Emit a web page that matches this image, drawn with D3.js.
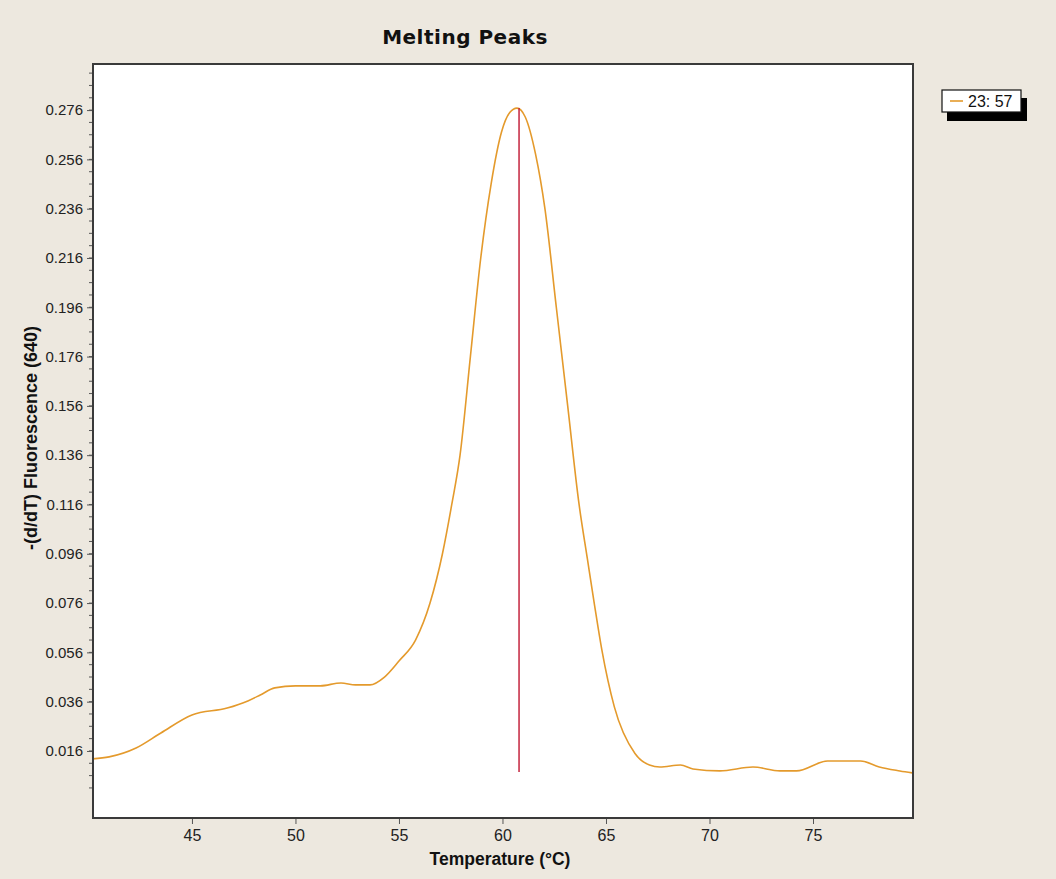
<!DOCTYPE html>
<html>
<head>
<meta charset="utf-8">
<script src="https://cdn.jsdelivr.net/npm/d3@7"></script>
<style>
  body { margin: 0; background: #ede8df; }
  svg { display: block; }
</style>
</head>
<body>
<div class="viewbox"></div>
<script>
// melting curve (temperature in C, -(d/dT) value)
const temps = [40.2, 41.0, 42.3, 43.5, 45.0, 46.7, 47.7, 48.3, 49.0, 50.0, 51.2, 52.2, 52.9, 53.6,
  54.3, 55.0, 55.8, 56.5, 57.1, 57.55, 57.95, 58.45, 58.95, 59.45, 59.95, 60.35, 60.7,
  61.1, 61.6, 62.05, 62.6, 63.15, 63.7, 64.1, 64.45, 64.8, 65.4, 66.4, 67.1, 67.6, 68.6,
  69.2, 70.5, 72.1, 73.4, 74.2, 75.7, 77.3, 78.2, 79.2, 79.8];
const fluor = [0.0128, 0.0136, 0.0172, 0.0233, 0.0306, 0.0334, 0.0363, 0.0387, 0.0416, 0.0424,
  0.0424, 0.0436, 0.0428, 0.0428, 0.0460, 0.0525, 0.0610, 0.0760, 0.0960, 0.1160, 0.1360,
  0.1760, 0.2160, 0.2460, 0.2670, 0.2750, 0.2768,
  0.2732, 0.2580, 0.2360, 0.1960, 0.1560, 0.1160, 0.0940, 0.0750, 0.0570, 0.0340, 0.0150,
  0.0103, 0.0095, 0.0103, 0.0087, 0.0079, 0.0095, 0.0079, 0.0079, 0.0119, 0.0119, 0.0095,
  0.0079, 0.0071];

const xTicks = [45, 50, 55, 60, 65, 70, 75];
const yTicks = [0.016, 0.036, 0.056, 0.076, 0.096, 0.116, 0.136, 0.156, 0.176, 0.196, 0.216, 0.236, 0.256, 0.276];

// the peak marker (red line)
const peakT = 60.8;
const peakRange = [0.0075, 0.2768];
const legendLabel = "23: 57";

const svg_width = 1056;
const svg_height = 879;
const margin = { left: 93, top: 64, right: 143, bottom: 61 };
const w = svg_width - margin.left - margin.right;
const h = svg_height - margin.top - margin.bottom;

let svg = d3.select(".viewbox")
  .append("svg")
  .attr("width", svg_width)
  .attr("height", svg_height)
  .style("font-family", "'Liberation Sans', Arial, sans-serif");

let x = d3.scaleLinear().domain([40.22, 79.83]).range([0, w]);
let y = d3.scaleLinear().domain([-0.0112, 0.2947]).range([h, 0]);

let g = svg.append("g").attr("transform", `translate(${margin.left},${margin.top})`);

g.append("rect")
  .attr("width", w).attr("height", h)
  .attr("fill", "#fff");

// minor ticks on y every 0.005
let minor = d3.range(0.001, 0.2947, 0.005).filter(v => v > -0.0112);
g.selectAll(".minor")
  .data(minor)
  .enter().append("line")
  .attr("x1", -4).attr("x2", 0)
  .attr("y1", d => y(d)).attr("y2", d => y(d))
  .attr("stroke", "#555").attr("stroke-width", 1);

let yAxis = g.append("g")
  .call(d3.axisLeft(y).tickValues(yTicks).tickFormat(d3.format(".3f")).tickSize(6).tickSizeOuter(0));
let xAxis = g.append("g")
  .attr("transform", `translate(0,${h})`)
  .call(d3.axisBottom(x).tickValues(xTicks).tickSize(6).tickSizeOuter(0));

[yAxis, xAxis].forEach(a => {
  a.select(".domain").remove();
  a.selectAll(".tick line").attr("stroke", "#555");
  a.selectAll("text").attr("fill", "#222").style("font-size", "15px");
});
yAxis.selectAll("text").attr("x", -10);
xAxis.selectAll("text").attr("y", 12).style("font-size", "16px");

let line = d3.line()
  .x((d, i) => x(temps[i]))
  .y(d => y(d))
  .curve(d3.curveMonotoneX);

g.append("path")
  .datum(fluor)
  .attr("d", line)
  .attr("fill", "none")
  .attr("stroke", "#e49a2c")
  .attr("stroke-width", 1.6);

g.append("line")
  .attr("x1", x(peakT)).attr("x2", x(peakT))
  .attr("y1", y(peakRange[0])).attr("y2", y(peakRange[1]))
  .attr("stroke", "#c4243e")
  .attr("stroke-width", 1.5);

// frame
g.append("rect")
  .attr("width", w).attr("height", h)
  .attr("fill", "none")
  .attr("stroke", "#3a3a3a")
  .attr("stroke-width", 2);

svg.append("text")
  .attr("x", 465)
  .attr("y", 44)
  .attr("text-anchor", "middle")
  .style("font-family", "'DejaVu Sans', sans-serif")
  .style("font-size", "20px")
  .style("font-weight", "bold")
  .style("letter-spacing", "0.5px")
  .attr("fill", "#111")
  .text("Melting Peaks");

svg.append("text")
  .attr("x", 500)
  .attr("y", 865)
  .attr("text-anchor", "middle")
  .style("font-size", "17.5px")
  .style("font-weight", "bold")
  .attr("fill", "#111")
  .text("Temperature (°C)");

svg.append("text")
  .attr("transform", `translate(37,438) rotate(-90)`)
  .attr("text-anchor", "middle")
  .style("font-size", "18px")
  .style("font-weight", "bold")
  .attr("fill", "#111")
  .text("-(d/dT) Fluorescence (640)");

// legend box with a black drop shadow
let leg = svg.append("g").attr("transform", "translate(942,90)");
leg.append("rect").attr("x", 5).attr("y", 8).attr("width", 80).attr("height", 23).attr("fill", "#000");
leg.append("rect").attr("width", 79).attr("height", 22).attr("fill", "#fff")
  .attr("stroke", "#111").attr("stroke-width", 1.2);
leg.append("line").attr("x1", 8).attr("x2", 21).attr("y1", 11).attr("y2", 11)
  .attr("stroke", "#e49a2c").attr("stroke-width", 1.6);
leg.append("text").attr("x", 26).attr("y", 17)
  .style("font-size", "16px").attr("fill", "#111")
  .text(legendLabel);
</script>
</body>
</html>
